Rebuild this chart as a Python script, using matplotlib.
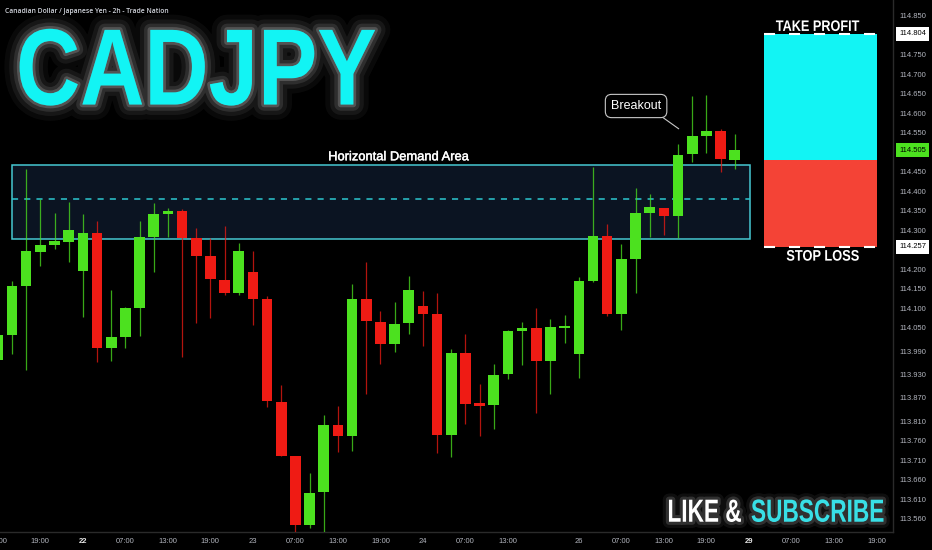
import matplotlib
matplotlib.use("Agg")
import matplotlib.pyplot as plt
import matplotlib.patheffects as pe
from matplotlib.patches import Rectangle
from matplotlib.transforms import Affine2D
import numpy as np

# ---------------- data ----------------
idx = list(range(-1, 52))
opens = [113.967, 114.031, 114.157, 114.244, 114.263, 114.271, 114.196, 114.293, 113.999, 114.027,
         114.101, 114.283, 114.342, 114.349, 114.279, 114.234, 114.172, 114.138, 114.194, 114.123,
         113.860, 113.722, 113.543, 113.628, 113.801, 113.772, 114.124, 114.065, 114.008, 114.061,
         114.105, 114.085, 113.774, 113.984, 113.856, 113.851, 113.931, 114.041, 114.049, 113.965,
         114.052, 113.983, 114.170, 114.285, 114.085, 114.226, 114.345, 114.358, 114.336, 114.495,
         114.542, 114.555, 114.480]
highs = [114.049, 114.170, 114.457, 114.379, 114.344, 114.373, 114.342, 114.324, 114.147, 114.104,
         114.324, 114.369, 114.356, 114.354, 114.305, 114.279, 114.311, 114.266, 114.247, 114.132,
         113.903, 113.722, 113.678, 113.827, 113.850, 114.162, 114.219, 114.094, 114.117, 114.183,
         114.145, 114.140, 113.995, 114.034, 113.906, 113.956, 114.044, 114.064, 114.101, 114.072,
         114.083, 114.181, 114.461, 114.316, 114.265, 114.409, 114.393, 114.358, 114.521, 114.644,
         114.647, 114.559, 114.547]
lows = [113.947, 113.983, 113.942, 114.209, 114.252, 114.219, 114.078, 113.963, 113.965, 113.999,
        114.029, 114.194, 114.282, 113.976, 114.061, 114.074, 114.134, 114.135, 114.057, 113.846,
        113.720, 113.527, 113.536, 113.524, 113.731, 113.735, 113.880, 113.957, 113.987, 114.034,
        114.004, 113.728, 113.719, 113.803, 113.773, 113.790, 113.919, 113.954, 113.832, 113.879,
        114.012, 113.922, 114.168, 114.080, 114.044, 114.140, 114.283, 114.287, 114.279, 114.476,
        114.497, 114.449, 114.456]
closes = [114.031, 114.157, 114.246, 114.262, 114.272, 114.300, 114.293, 113.997, 114.025, 114.101,
          114.282, 114.341, 114.349, 114.279, 114.234, 114.174, 114.138, 114.247, 114.124, 113.862,
          113.722, 113.543, 113.627, 113.801, 113.773, 114.124, 114.068, 114.008, 114.060, 114.146,
          114.086, 113.774, 113.984, 113.855, 113.849, 113.928, 114.042, 114.049, 113.965, 114.051,
          114.053, 114.169, 114.285, 114.085, 114.225, 114.345, 114.360, 114.336, 114.494, 114.542,
          114.554, 114.482, 114.505]

time_tick_pos = [2, 5, 8, 11, 14, 17, 20, 23, 26, 29, 32, 35, 40, 43, 46, 49, 52, 55, 58, 61]
time_tick_labels = ["19:00", "22", "07:00", "13:00", "19:00", "23", "07:00", "13:00", "19:00", "24",
                     "07:00", "13:00", "26", "07:00", "13:00", "19:00", "29", "07:00", "13:00", "19:00"]
bold_time_labels = ["22", "29"]

price_ticks = [114.850, 114.750, 114.700, 114.650, 114.600, 114.550, 114.450, 114.400, 114.350,
               114.300, 114.200, 114.150, 114.100, 114.050, 113.990, 113.930, 113.870, 113.810,
               113.760, 113.710, 113.660, 113.610, 113.560]

demand_top = 114.466
demand_bottom = 114.277
demand_mid = 114.380
take_profit = 114.804
entry = 114.480
stop_loss = 114.257
last_price = 114.505

# ---------------- style ----------------
BG = "#000000"
GREEN = "#4ce11f"
RED = "#ef1b14"
AXIS_TXT = "#b2b5be"
CYAN = "#12f4f4"
W, H = 932, 550


class Stretch(pe.AbstractPathEffect):
    """Wraps a path effect and scales glyphs about an anchor point (pixels, display coords)."""

    def __init__(self, inner, sx, sy, x0, y0):
        super().__init__()
        self.inner, self.sx, self.sy, self.x0, self.y0 = inner, sx, sy, x0, y0

    def draw_path(self, renderer, gc, tpath, affine, rgbFace=None):
        t = affine + Affine2D().translate(-self.x0, -self.y0).scale(self.sx, self.sy) \
            .translate(self.x0, self.y0)
        self.inner.draw_path(renderer, gc, tpath, t, rgbFace)


def tall(effects, sy, x0, baseline_px):
    """Vertical stretch about the text baseline (baseline given in pixels from the top)."""
    return [Stretch(e, 1.0, sy, x0, H - baseline_px) for e in effects]


fig = plt.figure(figsize=(W / 100, H / 100), dpi=100, facecolor=BG)
ax = fig.add_axes([0, 18 / H, 893 / W, 532 / H], facecolor=BG)

x = np.array(idx, dtype=float)
o = np.array(opens); h = np.array(highs); l = np.array(lows); c = np.array(closes)
up = c >= o
colors = np.where(up, GREEN, RED)

# demand area
ax.add_patch(Rectangle((0.0, demand_bottom), 52.05, demand_top - demand_bottom,
                       facecolor="#0b1422", edgecolor="#46c8d2", lw=1.1, zorder=1))
ax.plot([0.0, 52.05], [demand_mid, demand_mid], color="#2cc7d0", lw=1.1,
        linestyle=(0, (4, 4)), zorder=2)
ax.text(27.25, 114.487, "Horizontal Demand Area", color="white", fontsize=9.3,
        family="Liberation Sans", ha="center", va="center", zorder=5,
        path_effects=[pe.Stroke(linewidth=0.3, foreground="white"), pe.Normal()])

# candles
ax.vlines(x, l, h, colors=colors, lw=0.9, alpha=0.75, zorder=3)
body = np.maximum(np.abs(c - o), 0.004)
bottom = np.where(np.abs(c - o) < 0.004, (o + c) / 2 - 0.002, np.minimum(o, c))
ax.bar(x, body, bottom=bottom, width=0.75, color=colors, edgecolor="none", zorder=4)

# take profit / stop loss
ax.add_patch(Rectangle((53.07, entry), 8.0, take_profit - entry, facecolor=CYAN,
                       edgecolor="none", zorder=3))
ax.add_patch(Rectangle((53.07, stop_loss), 8.0, entry - stop_loss, facecolor="#f44336",
                       edgecolor="none", zorder=3))
for yv in (take_profit, stop_loss):
    ax.plot([53.07, 61.07], [yv, yv], color="white", lw=1.5, linestyle=(0, (5.3, 6.7)), zorder=4)
ax.text(56.83, 114.811, "TAKE PROFIT", color="white", fontsize=9.13, fontweight="bold",
        family="Liberation Sans", ha="center", va="baseline", zorder=5,
        path_effects=tall([pe.Normal()], 1.2, 817.3, 31.0))
ax.text(57.23, 114.222, "STOP LOSS", color="white", fontsize=9.24, fontweight="bold",
        family="Liberation Sans", ha="center", va="baseline", zorder=5,
        path_effects=tall([pe.Normal()], 1.19, 823.0, 260.7))

# breakout callout
ax.annotate("Breakout", xy=(47.05, 114.56), xytext=(44.04, 114.6185),
            color="white", fontsize=9, family="Liberation Sans", ha="center", va="center",
            bbox=dict(boxstyle="round,pad=0.45,rounding_size=0.5", fc="black", ec="#c8c8c8", lw=0.8),
            arrowprops=dict(arrowstyle="-", color="#c8c8c8", lw=0.8, shrinkA=0, shrinkB=0,
                            relpos=(0.88, 0.0)), zorder=6)

# axes
ax.set_xlim(-0.847, 62.17)
ax.set_ylim(113.5262, 114.8903)
for s in ("top", "left"):
    ax.spines[s].set_visible(False)
for s in ("right", "bottom"):
    ax.spines[s].set_color("#2a2a2a")
    ax.spines[s].set_linewidth(1)
ax.yaxis.tick_right()
ax.set_yticks(price_ticks)
ax.set_yticklabels([f"{v:.3f}" for v in price_ticks])
ax.set_xticks(time_tick_pos)
ax.set_xticklabels(time_tick_labels)
ax.tick_params(axis="both", length=0, colors=AXIS_TXT, labelsize=5.5)
ax.tick_params(axis="y", pad=4.3)
ax.tick_params(axis="x", pad=4.0)
for lab in ax.get_xticklabels() + ax.get_yticklabels():
    lab.set_family("Liberation Sans")
for lab in ax.get_xticklabels():
    if lab.get_text() in bold_time_labels:
        lab.set_fontweight("bold")
        lab.set_color("#e6e6e6")
ax.text(-1, -9.5 / 532, "13:00", transform=ax.get_xaxis_transform(), color=AXIS_TXT,
        fontsize=5.5, family="Liberation Sans", ha="center", va="center", clip_on=False)

# boxed price labels
for val, fc in ((take_profit, "white"), (last_price, GREEN), (stop_loss, "white")):
    ax.annotate(f"{val:.3f}", xy=(1.0, val), xycoords=("axes fraction", "data"),
                xytext=(4.3, 0), textcoords="offset points", ha="left", va="center",
                fontsize=5.5, family="Liberation Sans", color="black",
                bbox=dict(boxstyle="square,pad=0.45", fc=fc, ec="none"), annotation_clip=False,
                zorder=7)

# titles
fig.text(5 / W, 1 - 13 / H, "Canadian Dollar / Japanese Yen - 2h - Trade Nation",
         color="#d1d4dc", fontsize=4.9, family="Open Sans", fontweight="semibold",
         ha="left", va="baseline")

glow = [pe.Stroke(linewidth=22, foreground="white", alpha=0.04),
        pe.Stroke(linewidth=15, foreground="white", alpha=0.06),
        pe.Stroke(linewidth=9, foreground="white", alpha=0.10),
        pe.Stroke(linewidth=4, foreground="white", alpha=0.18),
        pe.Normal()]
fig.text(16 / W, 1 - 104.5 / H, "CADJPY", color=CYAN, fontsize=64,
         family="Liberation Sans", fontweight="bold",
         ha="left", va="baseline", path_effects=tall(glow, 1.22, 16, 104.5))

glow2 = [pe.Stroke(linewidth=9, foreground="white", alpha=0.06),
         pe.Stroke(linewidth=4.5, foreground="white", alpha=0.14),
         pe.Normal()]
fig.text(741.7 / W, 1 - 521.7 / H, "LIKE &", color="white", fontsize=16.3,
         family="Liberation Sans", fontweight="bold",
         ha="right", va="baseline", path_effects=tall(glow2, 1.41, 741.7, 521.7))
fig.text(751 / W, 1 - 521.7 / H, "SUBSCRIBE", color="#38dfe6", fontsize=16.3,
         family="Liberation Sans", fontweight="bold",
         ha="left", va="baseline", path_effects=tall(glow2, 1.41, 751, 521.7))

fig.savefig("out.png", dpi=100, facecolor=BG)
